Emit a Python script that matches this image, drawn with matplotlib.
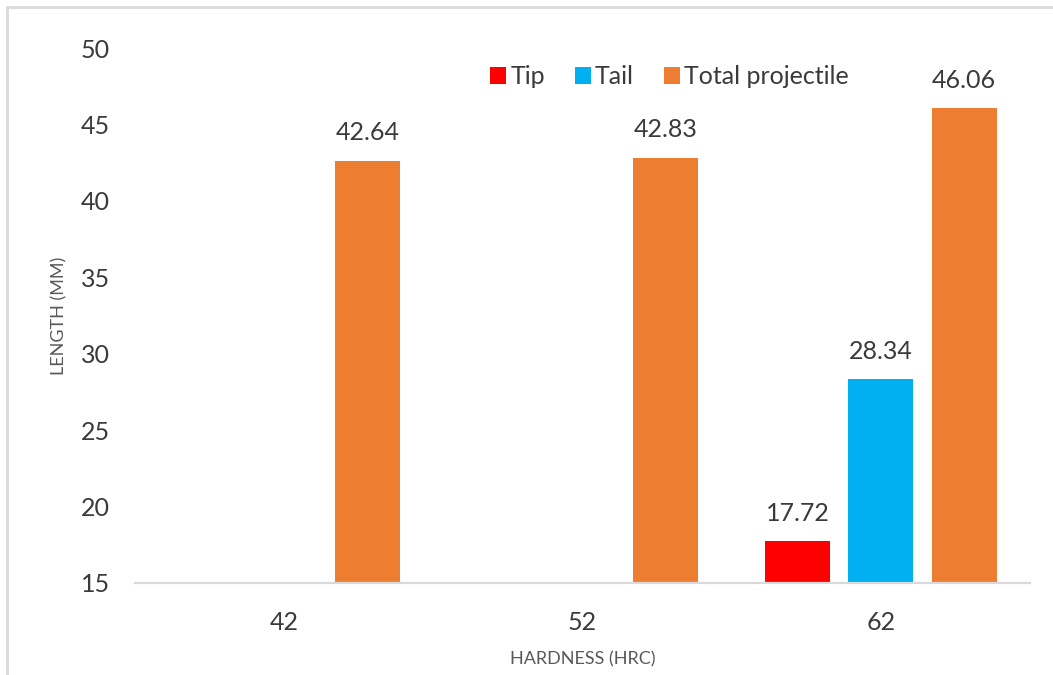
import numpy as np
import matplotlib
matplotlib.use("Agg")
import matplotlib.pyplot as plt
from matplotlib.patches import Rectangle

plt.rcParams['font.family'] = ['Lato', 'DejaVu Sans']

# Data
hardness = ["42", "52", "62"]
tip = [np.nan, np.nan, 17.72]
tail = [np.nan, np.nan, 28.34]
total = [42.64, 42.83, 46.06]

series = [
    ("Tip", tip, "#FF0000"),
    ("Tail", tail, "#00B0F0"),
    ("Total projectile", total, "#ED7D31"),
]

W, H, DPI = 1053, 675, 100
fig = plt.figure(figsize=(W / DPI, H / DPI), dpi=DPI)
ax = fig.add_axes([135 / W, 1 - 583 / H, 895 / W, 535 / H])

text_dark = "#3A3A3A"
title_gray = "#595959"
line_gray = "#D9D9D9"

x = np.arange(len(hardness))
step = 0.279
width = 0.218
offsets = [-step, 0.0, step]

for (name, vals, color), off in zip(series, offsets):
    vals = np.array(vals, dtype=float)
    ax.bar(x + off, vals, width=width, bottom=0, color=color, label=name,
           zorder=2)
    for xi, v in zip(x + off, vals):
        if np.isnan(v):
            continue
        ax.annotate(f"{v:.2f}", xy=(xi, v), xytext=(0, 14.5),
                    textcoords="offset points", ha="center", va="baseline",
                    fontsize=18, color=text_dark)

ax.set_xlim(-0.5, len(hardness) - 0.5)
ax.set_ylim(15, 50)
ax.set_yticks(np.arange(15, 51, 5))
ax.set_xticks(x)
ax.set_xticklabels(hardness)

for s in ["top", "right", "left"]:
    ax.spines[s].set_visible(False)
ax.spines["bottom"].set_color(line_gray)
ax.spines["bottom"].set_linewidth(1.6)
ax.spines["bottom"].set_zorder(3)

ax.tick_params(axis="both", length=0, labelsize=18, labelcolor=text_dark)
ax.tick_params(axis="y", pad=18)
ax.tick_params(axis="x", pad=20)

ax.set_xlabel("HARDNESS (HRC)", fontsize=13, color=title_gray)
ax.set_ylabel("LENGTH (MM)", fontsize=13, color=title_gray)
ax.xaxis.set_label_coords(0.5, (583 - 659) / 535)
ax.xaxis.label.set_va("center")
ax.yaxis.set_label_coords((59.5 - 135) / 895, 0.5)
ax.yaxis.label.set_va("center")

ax.legend(loc="center", bbox_to_anchor=(0.597, 0.946), ncol=3,
          frameon=False, fontsize=18, handlelength=0.65,
          handleheight=0.65, handletextpad=0.15, columnspacing=1.2,
          labelcolor=text_dark)

# Chart frame
fig.patches.append(Rectangle((7 / W, -0.1), 2.0, 1.1 - 7 / H,
                             transform=fig.transFigure, fill=False,
                             edgecolor=line_gray, linewidth=2.0, zorder=0))

fig.savefig("out.png", dpi=DPI, facecolor="white")
